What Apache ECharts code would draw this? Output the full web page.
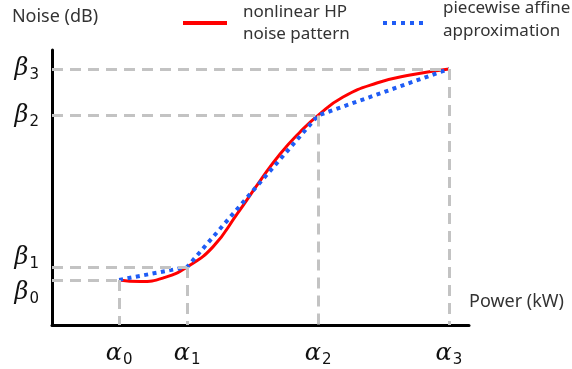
<!DOCTYPE html>
<html>
<head>
<meta charset="utf-8">
<script src="https://cdn.jsdelivr.net/npm/echarts@6/dist/echarts.min.js"></script>
<style>html,body{margin:0;padding:0;background:#fff}#c{width:572px;height:369px}</style>
</head>
<body>
<div id="c"></div>
<script>
// breakpoints (abstract units, axis range 0..100)
var alphaValues = [16.1, 32.4, 63.8, 95.2];
var betaValues = [16.4, 21.1, 76.2, 93.1];
var alphaLabels = ['α0', 'α1', 'α2', 'α3'];
var betaLabels = ['β0', 'β1', 'β2', 'β3'];
// nonlinear HP noise pattern
var curveX = [16.1, 21.1, 27.1, 32.4, 38.6, 44.4, 49.9, 54.7, 59.5, 63.8, 69.8, 77.9, 85.9, 95.2];
var curveY = [16.4, 15.8, 17.3, 21.1, 28.4, 40.4, 52.4, 62.2, 70.2, 76.2, 82.9, 88.0, 90.9, 93.1];
var seriesNames = ['nonlinear HP\nnoise pattern', 'piecewise affine\napproximation'];

var chart = echarts.init(document.getElementById('c'), null, {renderer: 'canvas'});

var curveData = curveX.map(function (x, i) { return [x, curveY[i]]; });
var affineData = alphaValues.map(function (a, i) { return [a, betaValues[i]]; });
var guideLines = [];
alphaValues.forEach(function (a, i) {
  var b = betaValues[i];
  guideLines.push([{coord: [0, b]}, {coord: [a, b]}]);
  guideLines.push([{coord: [a, b]}, {coord: [a, 0]}]);
});

var greek = {fontSize: 24, fontStyle: 'italic', fontFamily: 'DejaVu Serif', color: '#111'};
var sub = {fontSize: 15, fontFamily: 'DejaVu Sans', color: '#111', verticalAlign: 'bottom', padding: [13, 0, 0, 1]};

var option = {
  animation: false,
  backgroundColor: '#fff',
  grid: {left: 52, top: 50, width: 417, height: 275, containLabel: false},
  xAxis: {
    type: 'value', min: 0, max: 100,
    name: 'Power (kW)', nameLocation: 'end', nameGap: 0,
    nameTextStyle: {fontSize: 18, fontFamily: 'Noto Sans', color: '#333', align: 'left', verticalAlign: 'bottom', padding: [0, 0, 14, 0]},
    axisLine: {show: true, lineStyle: {color: '#000', width: 3}},
    axisTick: {show: false},
    splitLine: {show: false},
    axisLabel: {
      customValues: alphaValues,
      margin: 15,
      formatter: function (v) {
        var i = alphaValues.indexOf(v);
        var t = alphaLabels[i];
        return '{g|' + t.charAt(0) + '}{s|' + t.slice(1) + '}';
      },
      rich: {g: greek, s: sub}
    }
  },
  yAxis: {
    type: 'value', min: 0, max: 100,
    name: 'Noise (dB)', nameLocation: 'end', nameGap: 24,
    nameTextStyle: {fontSize: 18, fontFamily: 'Noto Sans', color: '#333', align: 'center', padding: [0, 0, 0, 6]},
    axisLine: {show: true, lineStyle: {color: '#000', width: 3}},
    axisTick: {show: false},
    splitLine: {show: false},
    axisLabel: {
      customValues: betaValues,
      margin: 13,
      formatter: function (v) {
        var i = betaValues.indexOf(v);
        var t = betaLabels[i];
        var k = i === 1 ? 'up' : (i === 0 ? 'dn' : 'n');
        return '{g' + k + '|' + t.charAt(0) + '}{s' + k + '|' + t.slice(1) + '}';
      },
      rich: {
        gn: greek, sn: sub,
        gup: Object.assign({}, greek, {padding: [0, 0, 18, 0]}),
        sup: Object.assign({}, sub, {padding: [13, 0, 18, 1]}),
        gdn: Object.assign({}, greek, {padding: [25, 0, 0, 0]}),
        sdn: Object.assign({}, sub, {padding: [38, 0, 0, 1]})
      }
    }
  },
  graphic: [
    {type: 'line', shape: {x1: 183, y1: 23, x2: 227, y2: 23}, style: {stroke: '#ff0000', lineWidth: 4}},
    {type: 'text', left: 243, top: 1, style: {text: seriesNames[0], fontSize: 17, lineHeight: 22, fontFamily: 'Noto Sans', fill: '#333'}},
    {type: 'line', shape: {x1: 383, y1: 23, x2: 428, y2: 23}, style: {stroke: '#1f5cf5', lineWidth: 4, lineDash: [4, 5]}},
    {type: 'text', left: 443, top: -3, style: {text: seriesNames[1], fontSize: 17, lineHeight: 23, fontFamily: 'Noto Sans', fill: '#333'}}
  ],
  series: [
    {
      type: 'line', data: [], z: 1, silent: true,
      markLine: {
        silent: true, symbol: 'none', animation: false,
        label: {show: false},
        lineStyle: {color: '#c3c3c3', width: 3, type: [11, 7]},
        data: guideLines
      }
    },
    {
      name: seriesNames[0], type: 'line', data: curveData, smooth: 0.5, symbol: 'none', z: 2,
      lineStyle: {color: '#ff0000', width: 3}
    },
    {
      name: seriesNames[1], type: 'line', data: affineData, symbol: 'none', z: 3,
      lineStyle: {color: '#1f5cf5', width: 4, type: [4, 4.5], cap: 'butt'}
    }
  ]
};
chart.setOption(option);
</script>
</body>
</html>
